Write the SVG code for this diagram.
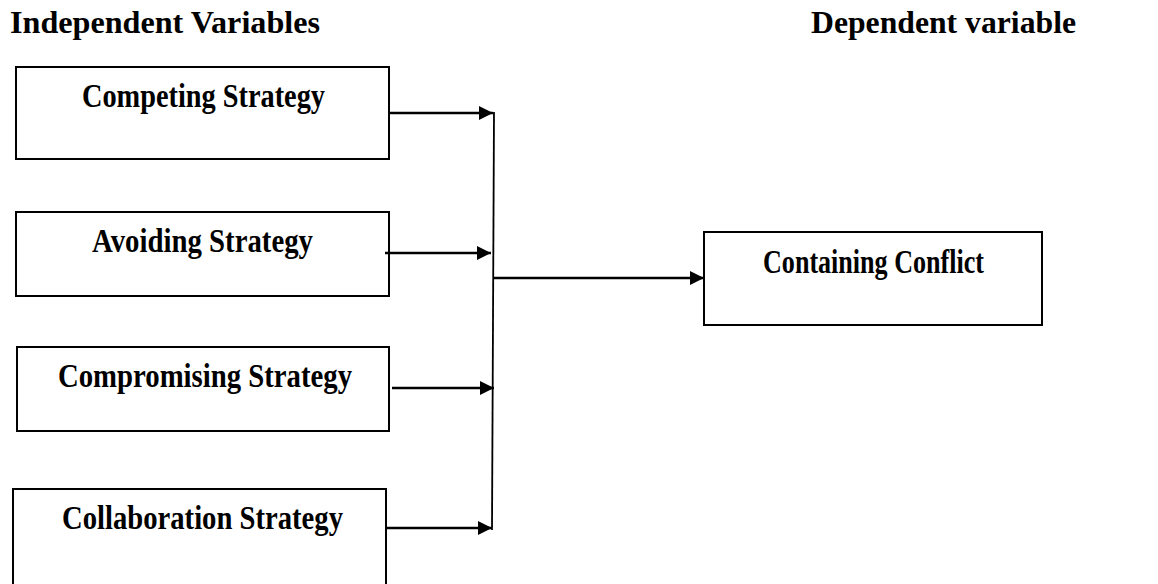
<svg xmlns="http://www.w3.org/2000/svg" width="1158" height="584" viewBox="0 0 1158 584">
<defs>
<style>
.box{fill:#fff;stroke:#000;stroke-width:2}
.lbl{font-family:"Liberation Serif","Times New Roman",serif;font-weight:bold;font-size:33px;fill:#000}
.hdr{font-family:"Liberation Serif","Times New Roman",serif;font-weight:bold;font-size:32px;fill:#000}
.con{stroke:#000;stroke-width:2.6;fill:none}
</style>
<marker id="ah" viewBox="0 0 14 14" refX="14" refY="7" markerWidth="14" markerHeight="14" markerUnits="userSpaceOnUse" orient="auto">
<path d="M0,0 L14,7 L0,14 z" fill="#000"/>
</marker>
</defs>
<rect width="1158" height="584" fill="#fff"/>
<text class="hdr" x="10" y="33" textLength="310" lengthAdjust="spacingAndGlyphs">Independent Variables</text>
<text class="hdr" x="811" y="33" textLength="265" lengthAdjust="spacingAndGlyphs">Dependent variable</text>
<g id="competing">
<rect class="box" x="16" y="67" width="373" height="92"/>
<text class="lbl" x="82" y="107" textLength="243" lengthAdjust="spacingAndGlyphs">Competing Strategy</text>
</g>
<g id="avoiding">
<rect class="box" x="16" y="212" width="373" height="84"/>
<text class="lbl" x="92" y="252" textLength="221" lengthAdjust="spacingAndGlyphs">Avoiding Strategy</text>
</g>
<g id="compromising">
<rect class="box" x="17" y="347" width="372" height="84"/>
<text class="lbl" x="58" y="387" textLength="294" lengthAdjust="spacingAndGlyphs">Compromising Strategy</text>
</g>
<g id="collaboration">
<rect class="box" x="13" y="489" width="373" height="120"/>
<text class="lbl" x="62" y="529" textLength="281" lengthAdjust="spacingAndGlyphs">Collaboration Strategy</text>
</g>
<g id="containing">
<rect class="box" x="704" y="232" width="338" height="93"/>
<text class="lbl" x="763" y="273" textLength="221" lengthAdjust="spacingAndGlyphs">Containing Conflict</text>
</g>
<g id="connectors">
<line class="con" x1="389" y1="113" x2="493" y2="113" marker-end="url(#ah)"/>
<line class="con" x1="385" y1="253" x2="491" y2="253" marker-end="url(#ah)"/>
<line class="con" x1="392" y1="388" x2="494" y2="388" marker-end="url(#ah)"/>
<line class="con" x1="386" y1="528" x2="492" y2="528" marker-end="url(#ah)"/>
<line class="con" style="stroke-width:1.8" x1="494" y1="112" x2="492" y2="530"/>
<line class="con" x1="493" y1="278" x2="704" y2="278" marker-end="url(#ah)"/>
</g>
</svg>
